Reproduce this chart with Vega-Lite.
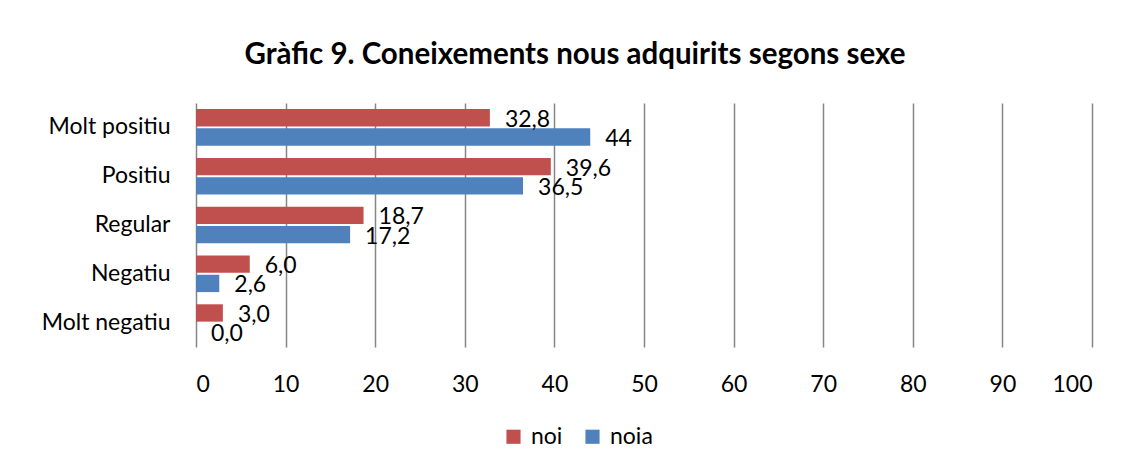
{
  "$schema": "https://vega.github.io/schema/vega-lite/v6.json",
  "autosize": "none",
  "padding": {"left": 196, "top": 103, "right": 42, "bottom": 123},
  "width": 896,
  "height": 244,
  "background": "white",
  "title": {
    "text": "Gràfic 9. Coneixements nous adquirits segons sexe",
    "font": "Lato",
    "fontSize": 29.5,
    "fontWeight": "bold",
    "color": "#000000",
    "anchor": "middle",
    "frame": "group",
    "dx": -69,
    "offset": 33
  },
  "data": {
    "values": [
      {"categoria": "Molt positiu", "sexe": "noi", "valor": 32.8, "etiqueta": "32,8"},
      {"categoria": "Molt positiu", "sexe": "noia", "valor": 44, "etiqueta": "44"},
      {"categoria": "Positiu", "sexe": "noi", "valor": 39.6, "etiqueta": "39,6"},
      {"categoria": "Positiu", "sexe": "noia", "valor": 36.5, "etiqueta": "36,5"},
      {"categoria": "Regular", "sexe": "noi", "valor": 18.7, "etiqueta": "18,7"},
      {"categoria": "Regular", "sexe": "noia", "valor": 17.2, "etiqueta": "17,2"},
      {"categoria": "Negatiu", "sexe": "noi", "valor": 6.0, "etiqueta": "6,0"},
      {"categoria": "Negatiu", "sexe": "noia", "valor": 2.6, "etiqueta": "2,6"},
      {"categoria": "Molt negatiu", "sexe": "noi", "valor": 3.0, "etiqueta": "3,0"},
      {"categoria": "Molt negatiu", "sexe": "noia", "valor": 0.0, "etiqueta": "0,0"}
    ]
  },
  "encoding": {
    "y": {
      "field": "categoria",
      "type": "nominal",
      "sort": ["Molt positiu", "Positiu", "Regular", "Negatiu", "Molt negatiu"],
      "scale": {"paddingInner": 0.25, "paddingOuter": 0.125},
      "axis": {
        "title": null,
        "domain": false,
        "ticks": false,
        "labelFont": "Lato",
        "labelFontSize": 23,
        "labelColor": "#000000",
        "labelPadding": 26
      }
    },
    "yOffset": {
      "field": "sexe",
      "type": "nominal",
      "sort": ["noi", "noia"],
      "scale": {"paddingInner": 0.1}
    },
    "x": {
      "field": "valor",
      "type": "quantitative",
      "scale": {"domain": [0, 100], "nice": false},
      "axis": {
        "title": null,
        "values": [0, 10, 20, 30, 40, 50, 60, 70, 80, 90, 100],
        "domain": false,
        "ticks": false,
        "grid": true,
        "gridColor": "#868686",
        "gridWidth": 1.5,
        "labelFont": "Lato",
        "labelFontSize": 23,
        "labelColor": "#000000",
        "labelPadding": 26
      }
    }
  },
  "layer": [
    {
      "mark": {"type": "bar"},
      "encoding": {
        "color": {
          "field": "sexe",
          "type": "nominal",
          "scale": {"domain": ["noi", "noia"], "range": ["#C0504D", "#4F81BD"]},
          "legend": {
            "title": null,
            "orient": "none",
            "direction": "horizontal",
            "legendX": 306,
            "legendY": 322,
            "symbolType": "square",
            "symbolSize": 200,
            "symbolStrokeWidth": 0,
            "symbolOpacity": 1,
            "labelFont": "Lato",
            "labelFontSize": 23,
            "labelColor": "#000000",
            "labelOffset": 6,
            "columnPadding": 18
          }
        }
      }
    },
    {
      "mark": {
        "type": "text",
        "align": "left",
        "baseline": "middle",
        "dx": 15,
        "dy": 2,
        "font": "Lato",
        "fontSize": 23,
        "color": "#000000"
      },
      "encoding": {
        "text": {"field": "etiqueta"}
      }
    }
  ],
  "config": {
    "view": {"stroke": null}
  }
}
